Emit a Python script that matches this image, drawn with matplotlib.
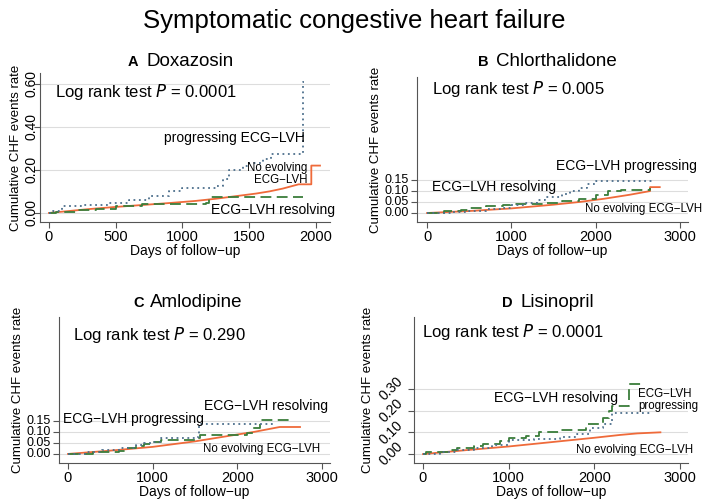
import numpy as np
import matplotlib
matplotlib.use("Agg")
import matplotlib.pyplot as plt

plt.rcParams['font.family'] = ['Liberation Sans', 'DejaVu Sans']

# kolory linii
c_no = "#ef6a3a"
c_prog = "#4d6f8c"
c_res = "#3a7d3a"

# A Doxazosin
A_prog_days = [0, 30, 100, 250, 450, 600, 750, 900, 1000, 1250, 1300, 1350, 1450, 1500, 1600, 1660, 1900, 1910]
A_prog = [0, 0.01, 0.03, 0.035, 0.048, 0.06, 0.08, 0.1, 0.115, 0.125, 0.16, 0.2, 0.22, 0.23, 0.25, 0.275, 0.61, 0.61]
A_no_days = [0, 100, 300, 500, 700, 900, 1100, 1250, 1400, 1550, 1650, 1750, 1870, 1965, 1965, 2030]
A_no = [0, 0.006, 0.018, 0.028, 0.037, 0.046, 0.056, 0.066, 0.078, 0.09, 0.1, 0.113, 0.133, 0.133, 0.22, 0.22]
A_res_days = [0, 50, 200, 350, 500, 700, 1180, 1200, 1900]
A_res = [0, 0.005, 0.012, 0.02, 0.03, 0.04, 0.045, 0.075, 0.075]

# B Chlorthalidone
B_prog_days = [0, 300, 500, 700, 900, 1000, 1150, 1300, 1400, 1600, 1700, 1800, 1900, 2000, 2700]
B_prog = [0, 0.003, 0.01, 0.018, 0.025, 0.035, 0.045, 0.06, 0.075, 0.085, 0.1, 0.115, 0.13, 0.148, 0.148]
B_res_days = [0, 200, 400, 500, 700, 900, 1000, 1200, 1400, 1600, 1800, 2000, 2150, 2300, 2650]
B_res = [0, 0.008, 0.015, 0.022, 0.032, 0.036, 0.042, 0.042, 0.046, 0.055, 0.065, 0.084, 0.1, 0.107, 0.112]
B_no_days = [0, 500, 1000, 1500, 1800, 2100, 2400, 2645, 2645, 2760]
B_no = [0, 0.009, 0.021, 0.038, 0.05, 0.065, 0.083, 0.1, 0.118, 0.118]

# C Amlodipine
C_prog_days = [0, 200, 400, 600, 800, 900, 1000, 1100, 1300, 1500, 1550, 2460]
C_prog = [0, 0.01, 0.02, 0.025, 0.04, 0.05, 0.055, 0.07, 0.07, 0.075, 0.135, 0.135]
C_res_days = [0, 300, 600, 700, 800, 900, 1000, 1100, 1300, 1500, 1560, 2110, 2190, 2270, 2630]
C_res = [0, 0.008, 0.012, 0.025, 0.035, 0.045, 0.055, 0.065, 0.065, 0.07, 0.088, 0.095, 0.116, 0.152, 0.152]
C_no_days = [0, 500, 1000, 1500, 2000, 2200, 2500, 2740]
C_no = [0, 0.015, 0.032, 0.057, 0.088, 0.1, 0.122, 0.122]

# D Lisinopril
D_res_days = [0, 30, 250, 300, 400, 600, 700, 900, 1000, 1200, 1350, 1600, 1900, 2100, 2170, 2200, 2380, 2400, 2550]
D_res = [0, 0.01, 0.01, 0.02, 0.03, 0.035, 0.047, 0.06, 0.075, 0.085, 0.1, 0.11, 0.14, 0.165, 0.2, 0.22, 0.22, 0.32, 0.32]
D_prog_days = [0, 200, 400, 600, 800, 1000, 1300, 1600, 1800, 1950, 2100, 2200, 2650]
D_prog = [0, 0.01, 0.02, 0.03, 0.04, 0.065, 0.07, 0.08, 0.09, 0.12, 0.14, 0.19, 0.19]
D_no_days = [0, 500, 1000, 1500, 2000, 2300, 2500, 2770]
D_no = [0, 0.018, 0.035, 0.055, 0.075, 0.088, 0.095, 0.1]

W, H = 709, 501
fig = plt.figure(figsize=(W / 100, H / 100), dpi=100)


def px_axes(l, t, r, b):
    return fig.add_axes([l / W, 1 - b / H, (r - l) / W, (b - t) / H])


def style(ax, xlim, ylim, xticks, yticks, yrot, ysize=10):
    ax.set_xlim(*xlim)
    ax.set_ylim(*ylim)
    ax.set_xticks(xticks)
    ax.set_yticks(yticks)
    ax.set_yticklabels([f"{v:.2f}" for v in yticks], rotation=yrot, fontsize=ysize,
                       va="center", ha="right" if yrot != 90 else "center")
    for s in ["top", "right"]:
        ax.spines[s].set_visible(False)
    for s in ["left", "bottom"]:
        ax.spines[s].set_color("#555555")
    ax.tick_params(axis="x", labelsize=10.5)
    ax.tick_params(color="#555555", length=4, pad=2)
    ax.grid(axis="y", color="#dddddd", lw=0.8)
    ax.set_axisbelow(True)
    ax.set_xlabel("Days of follow\u2212up", fontsize=10, labelpad=0)
    ax.set_ylabel("Cumulative CHF events rate", fontsize=9.5, labelpad=2)


def curves(ax, no, prog, res):
    ax.plot(no[0], no[1], color=c_no, lw=1.3)
    ax.step(res[0], res[1], where="post", color=c_res, lw=1.3, ls=(0, (6, 3)))
    ax.step(prog[0], prog[1], where="post", color=c_prog, lw=1.3, ls=(0, (1, 2)))


def title(letter, name, x_letter, x_name, y):
    fig.text(x_letter / W, 1 - y / H, letter, fontsize=10.5, fontweight="bold", va="baseline")
    fig.text(x_name / W, 1 - y / H, name, fontsize=13.5, va="baseline")


lab = 10
small = 8.3
lr = 12

# A
axA = px_axes(40, 73, 330, 222)
curves(axA, (A_no_days, A_no), (A_prog_days, A_prog), (A_res_days, A_res))
style(axA, (-67, 2105), (-0.042, 0.65), [0, 500, 1000, 1500, 2000], [0, 0.2, 0.4, 0.6], 90)
axA.text(45, 0.56, "Log rank test $\\it{P}$ = 0.0001", fontsize=lr, va="center")
axA.text(1918, 0.35, "progressing ECG\u2212LVH", fontsize=lab, ha="right", va="center")
axA.text(1933, 0.183, "No evolving\nECG\u2212LVH", fontsize=small, ha="right", va="center",
         linespacing=1.0)
axA.text(2142, 0.014, "ECG\u2212LVH resolving", fontsize=lab, ha="right", va="center")
title("A", "Doxazosin", 128, 146, 66)

# B
axB = px_axes(417, 77, 688, 222)
curves(axB, (B_no_days, B_no), (B_prog_days, B_prog), (B_res_days, B_res))
style(axB, (-119, 3095), (-0.041, 0.62), [0, 1000, 2000, 3000], [0, 0.05, 0.1, 0.15], 0, 9)
axB.text(56, 0.567, "Log rank test $\\it{P}$ = 0.005", fontsize=lr, va="center")
axB.text(3200, 0.214, "ECG\u2212LVH progressing", fontsize=lab, ha="right", va="center")
axB.text(56, 0.12, "ECG\u2212LVH resolving", fontsize=lab, ha="left", va="center")
axB.text(3258, 0.017, "No evolving ECG\u2212LVH", fontsize=small, ha="right", va="center")
title("B", "Chlorthalidone", 478, 496, 66)

# C
axC = px_axes(59, 317, 330, 463)
curves(axC, (C_no_days, C_no), (C_prog_days, C_prog), (C_res_days, C_res))
style(axC, (-106, 3094), (-0.041, 0.62), [0, 1000, 2000, 3000], [0, 0.05, 0.1, 0.15], 0, 9)
axC.text(63, 0.54, "Log rank test $\\it{P}$ = 0.290", fontsize=lr, va="center")
axC.text(-55, 0.16, "ECG\u2212LVH progressing", fontsize=lab, ha="left", va="center")
axC.text(3073, 0.215, "ECG\u2212LVH resolving", fontsize=lab, ha="right", va="center")
axC.text(2975, 0.022, "No evolving ECG\u2212LVH", fontsize=small, ha="right", va="center")
title("C", "Amlodipine", 133, 150, 307)

# D
axD = px_axes(414, 317, 688, 463)
curves(axD, (D_no_days, D_no), (D_prog_days, D_prog), (D_res_days, D_res))
style(axD, (-105, 3092), (-0.041, 0.63), [0, 1000, 2000, 3000], [0, 0.1, 0.2, 0.3], 45)
axD.text(-15, 0.56, "Log rank test $\\it{P}$ = 0.0001", fontsize=lr, va="center")
axD.text(2279, 0.257, "ECG\u2212LVH resolving", fontsize=lab, ha="right", va="center")
axD.text(2512, 0.25, "ECG\u2212LVH\nprogressing", fontsize=small, ha="left", va="center",
         linespacing=1.0)
axD.text(3154, 0.018, "No evolving ECG\u2212LVH", fontsize=small, ha="right", va="center")
title("D", "Lisinopril", 502, 520, 307)

fig.text(0.5, 1 - 21 / H, "Symptomatic congestive heart failure", fontsize=18.5,
         ha="center", va="center")

fig.savefig("out.png", dpi=100)
